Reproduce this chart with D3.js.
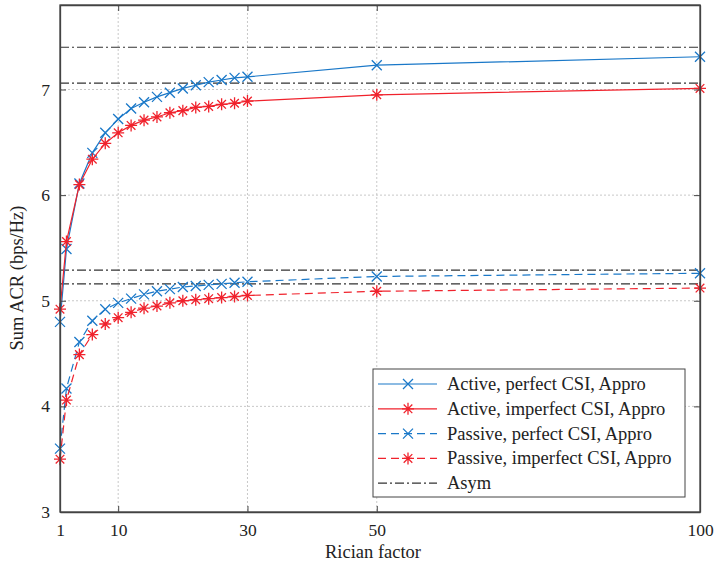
<!DOCTYPE html>
<html><head><meta charset="utf-8">
<script src="https://cdn.jsdelivr.net/npm/d3@7"></script>
<style>body{margin:0;background:#fff}svg{display:block}text{font-family:"Liberation Serif","Times New Roman",serif}</style>
</head><body><svg id="c" width="716" height="569"></svg>
<script>
const xs = [1,2,4,6,8,10,12,14,16,18,20,22,24,26,28,30,50,100];
const activePerfect   = [4.80,5.49,6.11,6.40,6.59,6.72,6.82,6.88,6.93,6.97,7.01,7.04,7.07,7.09,7.11,7.12,7.23,7.31];
const activeImperfect = [4.92,5.56,6.10,6.34,6.49,6.59,6.66,6.71,6.74,6.78,6.80,6.83,6.84,6.86,6.87,6.89,6.95,7.01];
const passivePerfect  = [3.60,4.17,4.61,4.81,4.92,4.98,5.02,5.06,5.09,5.11,5.13,5.14,5.15,5.16,5.17,5.18,5.23,5.26];
const passiveImperfect= [3.50,4.06,4.49,4.68,4.78,4.84,4.89,4.93,4.95,4.98,5.00,5.01,5.02,5.03,5.04,5.05,5.09,5.12];
const asymValues = [7.40,7.06,5.29,5.16];
const xTicks = [1,10,30,50,100];
const yTicks = [3,4,5,6,7];
const labels = ["Active, perfect CSI, Appro","Active, imperfect CSI, Appro","Passive, perfect CSI, Appro","Passive, imperfect CSI, Appro","Asym"];

const BLUE="#1a78c8", RED="#f0222c", AX="#444";
const L=60,R=700,T=5,B=512;
const svg=d3.select("#c");
const x=d3.scaleLinear().domain([1,100]).range([L,R]);
const y=d3.scaleLinear().domain([3,7.8]).range([B,T]);

// grid
const g=svg.append("g");
g.selectAll(".gx").data(xTicks.filter(d=>d>1&&d<100)).join("line")
 .attr("x1",d=>x(d)).attr("x2",d=>x(d)).attr("y1",T).attr("y2",B)
 .attr("stroke","#bbb").attr("stroke-width",0.8).attr("stroke-dasharray","2,2");
g.selectAll(".gy").data(yTicks.filter(d=>d>3)).join("line")
 .attr("x1",L).attr("x2",R).attr("y1",d=>y(d)).attr("y2",d=>y(d))
 .attr("stroke","#bbb").attr("stroke-width",0.8).attr("stroke-dasharray","2,2");

// asym lines
svg.selectAll(".asym").data(asymValues).join("line")
 .attr("x1",L).attr("x2",R).attr("y1",d=>y(d)).attr("y2",d=>y(d))
 .attr("stroke","#333").attr("stroke-width",1.1).attr("stroke-dasharray","9,3,2,3");

const series=[
 {v:activePerfect,c:BLUE,dash:null,m:"x"},
 {v:activeImperfect,c:RED,dash:null,m:"*"},
 {v:passivePerfect,c:BLUE,dash:"8,5",m:"x"},
 {v:passiveImperfect,c:RED,dash:"8,5",m:"*"}
];
const line=d3.line().x((d,i)=>x(xs[i])).y(d=>y(d));
function marker(sel,type,c){
  if(type==="x"){
    sel.append("path").attr("d","M-5,-5L5,5M-5,5L5,-5").attr("stroke",c).attr("stroke-width",1.3).attr("fill","none");
  } else {
    sel.append("path").attr("d","M-6,0L6,0M0,-6L0,6M-4.3,-4.3L4.3,4.3M-4.3,4.3L4.3,-4.3").attr("stroke",c).attr("stroke-width",1.3).attr("fill","none");
  }
}
series.forEach(s=>{
  svg.append("path").datum(s.v).attr("d",line).attr("fill","none").attr("stroke",s.c).attr("stroke-width",1.2)
   .attr("stroke-dasharray",s.dash);
  const ms=svg.selectAll(null).data(s.v).join("g").attr("transform",(d,i)=>`translate(${x(xs[i])},${y(d)})`);
  ms.each(function(){marker(d3.select(this),s.m,s.c);});
});

// axes
const fs="17.5px", fl="18.5px";
const fmt=d3.format("d");
const ax=svg.append("g").attr("transform",`translate(0,${B})`).call(d3.axisBottom(x).tickValues(xTicks).tickFormat(fmt).tickSizeInner(-6).tickSizeOuter(0).tickPadding(12));
const axT=svg.append("g").attr("transform",`translate(0,${T})`).call(d3.axisTop(x).tickValues(xTicks).tickSizeInner(-6).tickSizeOuter(0).tickFormat(""));
const ay=svg.append("g").attr("transform",`translate(${L},0)`).call(d3.axisLeft(y).tickValues(yTicks).tickFormat(fmt).tickSizeInner(-6).tickSizeOuter(0).tickPadding(10));
const ayR=svg.append("g").attr("transform",`translate(${R},0)`).call(d3.axisRight(y).tickValues(yTicks).tickSizeInner(-6).tickSizeOuter(0).tickFormat(""));
[ax,axT,ay,ayR].forEach(a=>{
  a.selectAll("path").attr("stroke",AX).attr("stroke-width",1.3);
  a.selectAll("line").attr("stroke",AX).attr("stroke-width",1);
  a.selectAll("text").attr("font-size",fs).attr("fill","#222").style("font-family","Liberation Serif");
});
svg.append("rect").attr("x",L).attr("y",T).attr("width",R-L).attr("height",B-T).attr("fill","none").attr("stroke",AX).attr("stroke-width",1.3);

svg.append("text").attr("x",(L+R)/2-7).attr("y",558).attr("text-anchor","middle").attr("font-size",fl).attr("fill","#222").text("Rician factor");
svg.append("text").attr("transform","translate(23,278) rotate(-90)").attr("text-anchor","middle").attr("font-size",fl).attr("fill","#222").text("Sum ACR (bps/Hz)");

// legend
const lg=svg.append("g");
lg.append("rect").attr("x",373).attr("y",369).attr("width",312).attr("height",128).attr("fill","#fff").attr("stroke",AX).attr("stroke-width",1);
const items=[
 {c:BLUE,dash:null,m:"x"},{c:RED,dash:null,m:"*"},{c:BLUE,dash:"8,5",m:"x"},{c:RED,dash:"8,5",m:"*"},{c:"#333",dash:"9,3,2,3",m:null}
];
items.forEach((it,i)=>{
  const yy=384+i*24.8;
  lg.append("line").attr("x1",378).attr("x2",437).attr("y1",yy).attr("y2",yy).attr("stroke",it.c).attr("stroke-width",1.2).attr("stroke-dasharray",it.dash);
  if(it.m){const mg=lg.append("g").attr("transform",`translate(408,${yy})`);marker(mg,it.m,it.c);}
  lg.append("text").attr("x",447).attr("y",yy+6).attr("font-size",fl).attr("fill","#222").text(labels[i]);
});
</script></body></html>
